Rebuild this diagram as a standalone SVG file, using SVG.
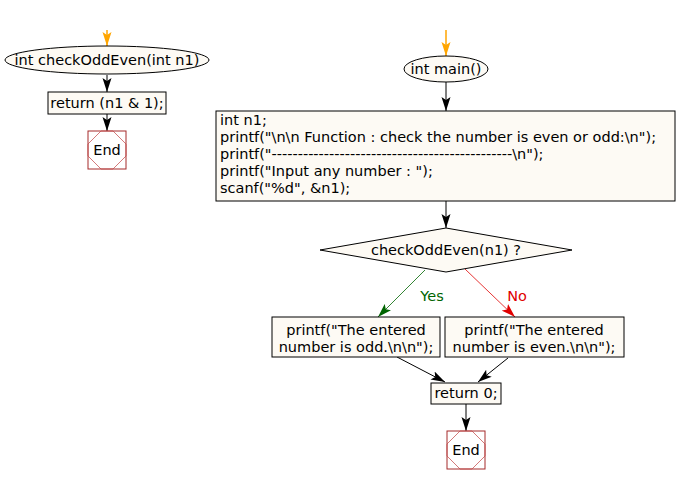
<svg xmlns="http://www.w3.org/2000/svg" width="677" height="484" viewBox="0 0 677 484">
<style>
text{font-family:"DejaVu Sans","Liberation Sans",sans-serif;font-size:14.5px;fill:#000}
.c{text-anchor:middle}
.node{fill:#fdfaf4;stroke:#000;stroke-width:1}
.endbox{fill:#fff;stroke:#a52a2a;stroke-width:1}
.endoct{fill:none;stroke:#c04040;stroke-width:0.7}
.ln{stroke:#000;stroke-width:1;fill:none}
</style>
<defs>
<marker id="ab" viewBox="0 0 14 10" refX="14" refY="5" markerWidth="14" markerHeight="10" markerUnits="userSpaceOnUse" orient="auto"><path d="M0,0.5 L14,5 L0,9.5 L3,5 Z" fill="#000"/></marker>
<marker id="ao" viewBox="0 0 14 10" refX="14" refY="5" markerWidth="14" markerHeight="10" markerUnits="userSpaceOnUse" orient="auto"><path d="M0,0.5 L14,5 L0,9.5 L3,5 Z" fill="#ffa500"/></marker>
<marker id="ag" viewBox="0 0 14 10" refX="14" refY="5" markerWidth="14" markerHeight="10" markerUnits="userSpaceOnUse" orient="auto"><path d="M0,0.5 L14,5 L0,9.5 L3,5 Z" fill="#006400"/></marker>
<marker id="ar" viewBox="0 0 14 10" refX="14" refY="5" markerWidth="14" markerHeight="10" markerUnits="userSpaceOnUse" orient="auto"><path d="M0,0.5 L14,5 L0,9.5 L3,5 Z" fill="#e00000"/></marker>
</defs>
<g id="connectors">
<line x1="107" y1="30" x2="107" y2="46" stroke="#ffa500" stroke-width="1.5" marker-end="url(#ao)"/>
<line class="ln" x1="107" y1="75" x2="107" y2="92" marker-end="url(#ab)"/>
<line class="ln" x1="107" y1="114" x2="107" y2="131" marker-end="url(#ab)"/>
<line x1="446" y1="30" x2="446" y2="56" stroke="#ffa500" stroke-width="1.5" marker-end="url(#ao)"/>
<line class="ln" x1="446" y1="82" x2="446" y2="111" marker-end="url(#ab)"/>
<line class="ln" x1="446" y1="201" x2="446" y2="228" marker-end="url(#ab)"/>
<line x1="425" y1="270" x2="378" y2="317" stroke="#006400" stroke-width="0.8" marker-end="url(#ag)"/>
<line x1="465" y1="269" x2="515" y2="317" stroke="#e00000" stroke-width="0.8" marker-end="url(#ar)"/>
<line class="ln" x1="397" y1="357" x2="445" y2="382" marker-end="url(#ab)"/>
<line class="ln" x1="508" y1="358" x2="478" y2="382" marker-end="url(#ab)"/>
<line class="ln" x1="466" y1="404" x2="466" y2="431" marker-end="url(#ab)"/>
<text x="432" y="301" class="c" style="fill:#006400">Yes</text>
<text x="517" y="301" class="c" style="fill:#e00000">No</text>
</g>
<g id="fn_start">
<ellipse class="node" cx="107" cy="60" rx="102" ry="14"/>
<text x="107" y="65" class="c">int checkOddEven(int n1)</text>
</g>
<g id="fn_return">
<rect class="node" x="48" y="92" width="118" height="22"/>
<text x="107" y="108" class="c">return (n1 &amp; 1);</text>
</g>
<g id="fn_end">
<rect class="endbox" x="88" y="131" width="38" height="38"/>
<polygon class="endoct" points="101,131 113,131 126,144 126,156 113,169 101,169 88,156 88,144"/>
<text x="107" y="155" class="c">End</text>
</g>
<g id="main_start">
<ellipse class="node" cx="446" cy="69" rx="42" ry="13"/>
<text x="446" y="74" class="c">int main()</text>
</g>
<g id="main_block">
<rect class="node" x="216" y="111" width="459" height="90"/>
<text x="220" y="125">int n1;</text>
<text x="220" y="142">printf("\n\n Function : check the number is even or odd:\n");</text>
<text x="220" y="159">printf("----------------------------------------------\n");</text>
<text x="220" y="176">printf("Input any number : ");</text>
<text x="220" y="193">scanf("%d", &amp;n1);</text>
</g>
<g id="decision">
<polygon class="node" points="320,250 446,228 572,250 446,272"/>
<text x="446" y="255" class="c">checkOddEven(n1) ?</text>
</g>
<g id="odd">
<rect class="node" x="272" y="317" width="168" height="40"/>
<text x="356" y="335" class="c">printf("The entered</text>
<text x="356" y="352" class="c">number is odd.\n\n");</text>
</g>
<g id="even">
<rect class="node" x="445" y="317" width="179" height="40"/>
<text x="534" y="335" class="c">printf("The entered</text>
<text x="534" y="352" class="c">number is even.\n\n");</text>
</g>
<g id="main_return">
<rect class="node" x="431" y="383" width="70" height="21"/>
<text x="466" y="398" class="c">return 0;</text>
</g>
<g id="main_end">
<rect class="endbox" x="447" y="431" width="38" height="38"/>
<polygon class="endoct" points="460,431 472,431 485,444 485,456 472,469 460,469 447,456 447,444"/>
<text x="466" y="455" class="c">End</text>
</g>
</svg>
